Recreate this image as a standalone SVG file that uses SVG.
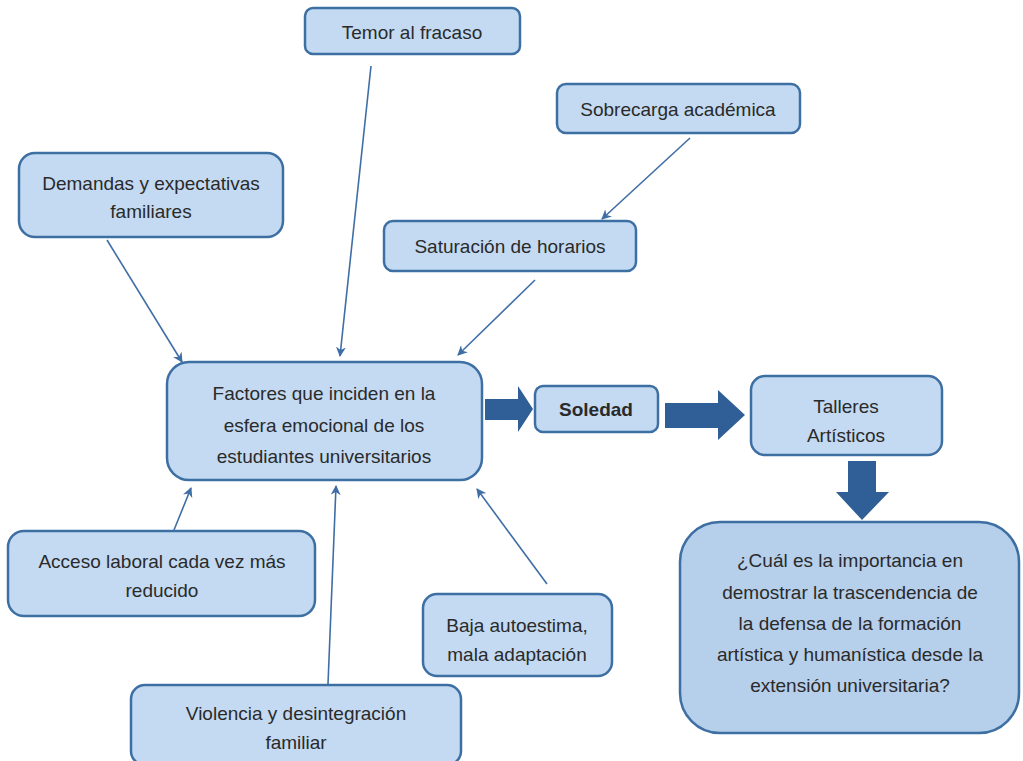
<svg xmlns="http://www.w3.org/2000/svg" width="1023" height="761" viewBox="0 0 1023 761">
<defs>
<style>
.box{fill:#c3daf2;stroke:#3e6fa3;stroke-width:2.5}
.q{fill:#b6cfea;stroke:#3e6fa3;stroke-width:2.5}
.t{font-family:"Liberation Sans",Arial,sans-serif;font-size:19px;fill:#2a2a2a;text-anchor:middle}
.b{font-weight:bold}
.c{stroke:#3f6ea6;stroke-width:1.6;fill:none;marker-end:url(#ah)}
.blk{fill:#2f5f96}
</style>
<marker id="ah" viewBox="0 0 10 10" refX="9" refY="5" markerWidth="10" markerHeight="10" markerUnits="userSpaceOnUse" orient="auto">
<path d="M0,0 L10,5 L0,10 L3,5 z" fill="#3f6ea6"/>
</marker>
</defs>
<rect width="1023" height="761" fill="#fff"/>
<g id="connectors">
<line class="c" x1="371" y1="66" x2="340" y2="356"/>
<line class="c" x1="690" y1="138" x2="602" y2="219"/>
<line class="c" x1="107" y1="240" x2="182" y2="362"/>
<line class="c" x1="535" y1="280" x2="458" y2="355"/>
<line class="c" x1="174" y1="530" x2="191" y2="488"/>
<line class="c" x1="328" y1="684" x2="336" y2="486"/>
<line class="c" x1="547" y1="584" x2="477" y2="489"/>
<path class="blk" d="M485,399 H518 V386 L533,409 L518,432 V420 H485 Z"/>
<path class="blk" d="M665,403 H718 V390 L745,415 L718,440 V428 H665 Z"/>
<path class="blk" d="M848,461 H876 V492 H889 L862,520 L836,492 H848 Z"/>
</g>
<g id="temor"><rect class="box" x="305" y="8" width="215" height="46" rx="8"/><text class="t" x="412" y="39">Temor al fracaso</text></g>
<g id="sobrecarga"><rect class="box" x="557" y="84" width="243" height="49" rx="9"/><text class="t" x="678" y="116">Sobrecarga académica</text></g>
<g id="demandas"><rect class="box" x="19" y="153" width="264" height="84" rx="16"/><text class="t" x="151" y="190">Demandas y expectativas</text><text class="t" x="151" y="218">familiares</text></g>
<g id="saturacion"><rect class="box" x="384" y="221" width="252" height="50" rx="9"/><text class="t" x="510" y="253">Saturación de horarios</text></g>
<g id="factores"><rect class="box" x="167" y="362" width="315" height="118" rx="22"/><text class="t" x="324" y="400">Factores que inciden en la</text><text class="t" x="324" y="432">esfera emocional de los</text><text class="t" x="324" y="463">estudiantes universitarios</text></g>
<g id="soledad"><rect class="box" x="535" y="386" width="123" height="46" rx="8"/><text class="t b" x="596" y="416">Soledad</text></g>
<g id="talleres"><rect class="box" x="751" y="376" width="191" height="79" rx="14"/><text class="t" x="846" y="413">Talleres</text><text class="t" x="846" y="442">Artísticos</text></g>
<g id="pregunta"><rect class="q" x="680" y="522" width="339" height="211" rx="40"/>
<text class="t" x="850" y="567">¿Cuál es la importancia en</text>
<text class="t" x="850" y="599">demostrar la trascendencia de</text>
<text class="t" x="850" y="630">la defensa de la formación</text>
<text class="t" x="850" y="661">artística y humanística desde la</text>
<text class="t" x="850" y="692">extensión universitaria?</text></g>
<g id="acceso"><rect class="box" x="8" y="531" width="307" height="85" rx="16"/><text class="t" x="162" y="568">Acceso laboral cada vez más</text><text class="t" x="162" y="597">reducido</text></g>
<g id="baja"><rect class="box" x="423" y="594" width="189" height="82" rx="14"/><text class="t" x="517" y="632">Baja autoestima,</text><text class="t" x="517" y="661">mala adaptación</text></g>
<g id="violencia"><rect class="box" x="131" y="685" width="330" height="80" rx="14"/><text class="t" x="296" y="720">Violencia y desintegración</text><text class="t" x="296" y="749">familiar</text></g>
</svg>
